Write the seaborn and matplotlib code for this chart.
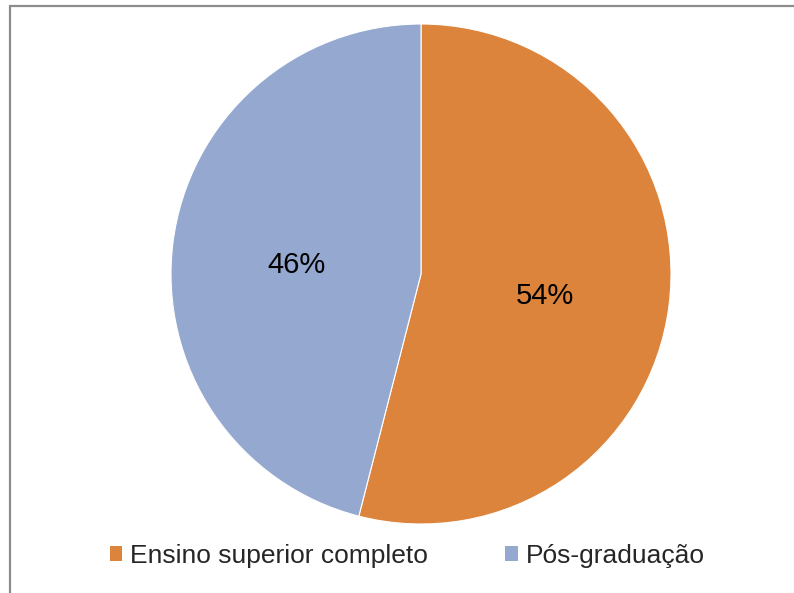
import matplotlib
matplotlib.use("Agg")
import matplotlib.pyplot as plt
import seaborn as sns
from matplotlib.patches import Patch, Rectangle

# education level of respondents
categories = ["Ensino superior completo", "Pós-graduação"]
shares = [54, 46]
colors = ["#DD843C", "#95A9D0"]

sns.set_style("white")
plt.rcParams["font.family"] = ["Liberation Sans", "DejaVu Sans"]

W, H = 794, 593
fig = plt.figure(figsize=(W / 100, H / 100), dpi=100)

# grey frame of the chart area (clipped at right and bottom)
fig.patches.append(Rectangle((9.5 / W, -0.5), 2, 1.5 - 5.5 / H, transform=fig.transFigure,
                             fill=False, edgecolor="#8c8c8c", lw=1.6))

cx, cy, r = 421, 274, 250
ax = fig.add_axes([(cx - r) / W, (H - cy - r) / H, 2 * r / W, 2 * r / H])
wedges, texts, autotexts = ax.pie(shares, colors=colors, startangle=90, counterclock=False,
                                  autopct="%1.0f%%", pctdistance=0.5,
                                  wedgeprops=dict(edgecolor="white", linewidth=0.8),
                                  textprops=dict(fontsize=21, color="black"))
# excel puts the labels a bit lower
for t in autotexts:
    x, y = t.get_position()
    t.set_position((x, y - 0.025))
ax.set_xlim(-1, 1)
ax.set_ylim(-1, 1)
ax.set_aspect("equal")
ax.axis("off")

handles = [Patch(facecolor=c, edgecolor="none") for c in colors]
fig.legend(handles, categories, loc="center", bbox_to_anchor=(407 / W, 1 - 556 / H),
           ncol=2, frameon=False, fontsize=19, handlelength=0.48, handleheight=0.48,
           handletextpad=0.28, columnspacing=2.95)

fig.savefig("out.png", dpi=100)
